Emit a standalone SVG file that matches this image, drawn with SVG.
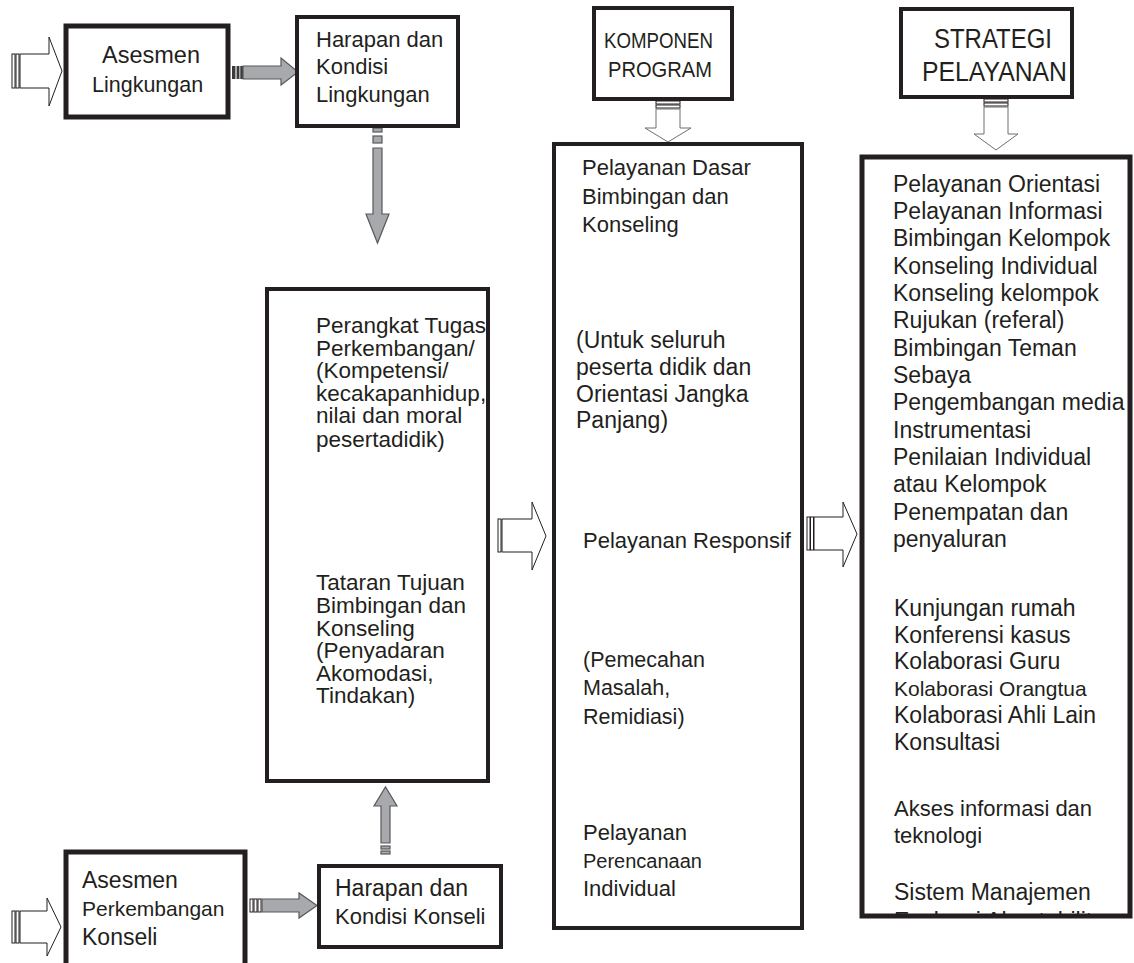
<svg xmlns="http://www.w3.org/2000/svg" width="1134" height="963" viewBox="0 0 1134 963">
<style>
  .box{fill:#fff;stroke:#231f20;stroke-width:4}
  .thick{stroke-width:5}
  .t{font-family:"Liberation Sans",Arial,sans-serif;fill:#231f20}
  .hollow{fill:#fff;stroke:#231f20;stroke-width:1}
  .stripe{fill:#fff;stroke:#231f20;stroke-width:1}
  .gray{fill:#a7a9ac;stroke:#58595b;stroke-width:1.2}
  .dark{fill:#3a3a3a}
</style>
<defs>
  <clipPath id="clipE"><rect x="860" y="155" width="272" height="759"/></clipPath>
</defs>
<rect width="1134" height="963" fill="#fff"/>

<g id="connectors">
  <g>
    <rect class="stripe" x="12" y="54" width="3" height="34"/>
    <rect class="stripe" x="16" y="54" width="3" height="34"/>
    <polygon class="hollow" points="20,54 49,54 49,37 62,71 49,106 49,88 20,88"/>
  </g>
  <g>
    <rect class="dark" x="232" y="66" width="11" height="13"/>
    <rect fill="#a7a9ac" x="235" y="66" width="2" height="13"/>
    <rect fill="#a7a9ac" x="239" y="66" width="1.5" height="13"/>
    <polygon class="gray" points="243,66 281,66 281,58 298,72 281,85 281,79 243,79"/>
  </g>
  <g>
    <rect class="gray" x="373" y="128" width="9" height="4"/>
    <rect class="gray" x="373" y="136" width="9" height="7"/>
    <polygon class="gray" points="373,148 382,148 382,214 389,214 377.5,243 366,214 373,214"/>
  </g>
  <g>
    <rect class="gray" x="381" y="846" width="9" height="3"/>
    <rect class="gray" x="381" y="851" width="9" height="3"/>
    <polygon class="gray" points="381,843 381,806 374,806 385.5,787 397,806 390,806 390,843"/>
  </g>
  <g>
    <rect class="stripe" x="12" y="911" width="3" height="32"/>
    <rect class="stripe" x="16" y="911" width="3" height="32"/>
    <polygon class="hollow" points="20,911 47,911 47,898 61,927 47,956 47,943 20,943"/>
  </g>
  <g>
    <rect class="stripe" x="250" y="899" width="3" height="13"/>
    <rect class="stripe" x="254" y="899" width="3" height="13"/>
    <rect class="stripe" x="258" y="899" width="3" height="13"/>
    <polygon class="gray" points="262,899 299,899 299,893 317,905.5 299,918 299,912 262,912"/>
  </g>
  <g>
    <rect class="stripe" x="498" y="519" width="3" height="33"/>
    <polygon class="hollow" points="502,519 532,519 532,502 546,536 532,570 532,552 502,552"/>
  </g>
  <g>
    <rect class="stripe" x="807" y="517" width="3" height="33"/>
    <rect class="stripe" x="810.5" y="517" width="3" height="33"/>
    <polygon class="hollow" points="814,517 843,517 843,502 857,534 843,567 843,550 814,550"/>
  </g>
  <g>
    <rect class="stripe" x="656" y="101" width="24" height="3"/>
    <rect class="stripe" x="656" y="105" width="24" height="3"/>
    <polygon class="hollow" style="stroke:#6d6e71" points="656,109 656,128 645,128 668,142 691,128 680,128 680,109"/>
  </g>
  <g>
    <rect class="stripe" x="984" y="99" width="24" height="3"/>
    <rect class="stripe" x="984" y="103" width="24" height="3"/>
    <polygon class="hollow" style="stroke:#6d6e71" points="984,107 984,134 974,134 996,150 1018,134 1008,134 1008,107"/>
  </g>
</g>

<g id="asesmen-lingkungan">
  <rect class="box thick" x="66" y="26" width="162" height="91"/>
  <text class="t" font-size="23.5" x="102" y="63">Asesmen</text>
  <text class="t" font-size="21.5" x="92" y="92">Lingkungan</text>
</g>

<g id="harapan-lingkungan">
  <rect class="box" x="297" y="17" width="161" height="109"/>
  <text class="t" font-size="22" x="316" y="47">Harapan dan</text>
  <text class="t" font-size="22" x="316" y="74">Kondisi</text>
  <text class="t" font-size="22" x="316" y="102">Lingkungan</text>
</g>

<g id="tugas-perkembangan">
  <rect class="box" x="267" y="289" width="221" height="492"/>
  <g class="t" font-size="22.5">
    <text x="316" y="333">Perangkat Tugas</text>
    <text x="316" y="356">Perkembangan/</text>
    <text x="316" y="378">(Kompetensi/</text>
    <text x="316" y="401">kecakapanhidup,</text>
    <text x="316" y="423">nilai dan moral</text>
    <text x="316" y="447">pesertadidik)</text>
    <text x="316" y="590">Tataran Tujuan</text>
    <text x="316" y="613">Bimbingan dan</text>
    <text x="316" y="636">Konseling</text>
    <text x="316" y="658">(Penyadaran</text>
    <text x="316" y="681">Akomodasi,</text>
    <text x="316" y="703">Tindakan)</text>
  </g>
</g>

<g id="asesmen-perkembangan">
  <rect class="box thick" x="66" y="852" width="179" height="120"/>
  <text class="t" font-size="23" x="82" y="888">Asesmen</text>
  <text class="t" font-size="21" x="82" y="916">Perkembangan</text>
  <text class="t" font-size="23" x="82" y="945">Konseli</text>
</g>

<g id="harapan-konseli">
  <rect class="box" x="319" y="866" width="182" height="81"/>
  <text class="t" font-size="23" x="335" y="896">Harapan dan</text>
  <text class="t" font-size="22" x="335" y="924">Kondisi Konseli</text>
</g>

<g id="komponen-program">
  <rect class="box" x="594" y="8" width="138" height="91"/>
  <text class="t" font-size="21.5" x="604" y="48" textLength="109" lengthAdjust="spacingAndGlyphs">KOMPONEN</text>
  <text class="t" font-size="21.5" x="608" y="77" textLength="104" lengthAdjust="spacingAndGlyphs">PROGRAM</text>
</g>

<g id="strategi-pelayanan">
  <rect class="box" x="901" y="9" width="171" height="88"/>
  <text class="t" font-size="27" x="934" y="48" textLength="118" lengthAdjust="spacingAndGlyphs">STRATEGI</text>
  <text class="t" font-size="27" x="922" y="81" textLength="145" lengthAdjust="spacingAndGlyphs">PELAYANAN</text>
</g>

<g id="komponen-isi">
  <rect class="box" x="554" y="144" width="248" height="784"/>
  <g class="t" font-size="22">
    <text x="582" y="175">Pelayanan Dasar</text>
    <text x="582" y="204">Bimbingan dan</text>
    <text x="582" y="232">Konseling</text>
  </g>
  <g class="t" font-size="23">
    <text x="576" y="348">(Untuk seluruh</text>
    <text x="576" y="375">peserta didik dan</text>
    <text x="576" y="402">Orientasi Jangka</text>
    <text x="576" y="428">Panjang)</text>
  </g>
  <text class="t" font-size="22" x="583" y="548">Pelayanan Responsif</text>
  <g class="t" font-size="21.5">
    <text x="583" y="667">(Pemecahan</text>
    <text x="583" y="695">Masalah,</text>
    <text x="583" y="724">Remidiasi)</text>
  </g>
  <text class="t" font-size="22" x="583" y="840">Pelayanan</text>
  <text class="t" font-size="20" x="583" y="868">Perencanaan</text>
  <text class="t" font-size="22" x="583" y="896">Individual</text>
</g>

<g id="strategi-isi">
  <rect class="box thick" x="862" y="157" width="268" height="759"/>
  <g class="t" font-size="23" clip-path="url(#clipE)">
    <text x="893" y="192">Pelayanan Orientasi</text>
    <text x="893" y="219">Pelayanan Informasi</text>
    <text x="893" y="246">Bimbingan Kelompok</text>
    <text x="893" y="274">Konseling Individual</text>
    <text x="893" y="301">Konseling kelompok</text>
    <text x="893" y="328">Rujukan (referal)</text>
    <text x="893" y="356">Bimbingan Teman</text>
    <text x="893" y="383">Sebaya</text>
    <text x="893" y="410">Pengembangan media</text>
    <text x="893" y="438">Instrumentasi</text>
    <text x="893" y="465">Penilaian Individual</text>
    <text x="893" y="492">atau Kelompok</text>
    <text x="893" y="520">Penempatan dan</text>
    <text x="893" y="547">penyaluran</text>
    <text x="894" y="616">Kunjungan rumah</text>
    <text x="894" y="643">Konferensi kasus</text>
    <text x="894" y="669">Kolaborasi Guru</text>
    <text x="894" y="696" font-size="21">Kolaborasi Orangtua</text>
    <text x="894" y="723">Kolaborasi Ahli Lain</text>
    <text x="894" y="750">Konsultasi</text>
    <text x="894" y="816" font-size="22">Akses informasi dan</text>
    <text x="894" y="843" font-size="22">teknologi</text>
    <text x="894" y="900">Sistem Manajemen</text>
    <text x="894" y="929">Evaluasi Akuntabilitas</text>
  </g>
</g>
</svg>
